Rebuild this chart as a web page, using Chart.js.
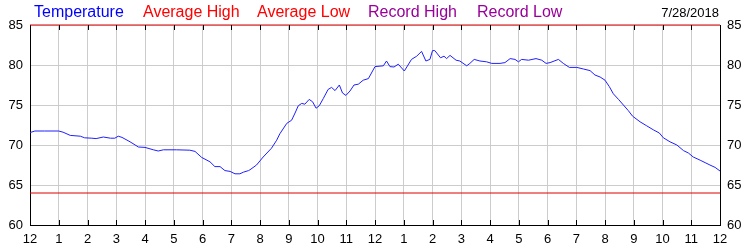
<!DOCTYPE html>
<html>
<head>
<meta charset="utf-8">
<title>Temperature 7/28/2018</title>
<script src="https://cdn.jsdelivr.net/npm/chart.js@4.4.1/dist/chart.umd.min.js"></script>
<style>
  html, body { margin: 0; padding: 0; background: #fff; }
  #wrap { position: relative; width: 750px; height: 250px; }
  #chart { position: absolute; left: 0; top: 0; }
  .lg { position: absolute; top: 3px; font: 16px "Liberation Sans", Arial, sans-serif; line-height: 18px; white-space: nowrap; }
  .date { position: absolute; top: 5px; right: 31px; font: 13px "Liberation Sans", Arial, sans-serif; line-height: 16px; color: #000; }
</style>
</head>
<body>
<div id="wrap">
  <canvas id="chart" width="750" height="250"></canvas>
  <span class="lg" style="left:34px;color:#0000ff">Temperature</span>
  <span class="lg" style="left:143px;color:#ff0000">Average High</span>
  <span class="lg" style="left:257px;color:#ff0000">Average Low</span>
  <span class="lg" style="left:368px;color:#990099">Record High</span>
  <span class="lg" style="left:477px;color:#990099">Record Low</span>
  <span class="date">7/28/2018</span>
</div>
<script>
// hours since midnight, and temperature read at each
const hours = [
  0, 0.17, 0.5, 1, 1.15, 1.4, 1.75, 1.9, 2.15, 2.3, 2.55, 2.8, 2.95, 3.07, 3.2, 3.48, 3.77, 4,
  4.29, 4.46, 4.64, 5.1, 5.56, 5.74, 5.97, 6.26, 6.43, 6.61, 6.78, 6.96, 7.13, 7.3, 7.42, 7.6,
  7.65, 7.88, 8.11, 8.4, 8.58, 8.69, 8.93, 9.1, 9.22, 9.33, 9.45, 9.56, 9.71, 9.83, 9.95, 10.06,
  10.2, 10.37, 10.49, 10.61, 10.76, 10.87, 10.99, 11.13, 11.27, 11.42, 11.59, 11.77, 12, 12.29,
  12.4, 12.52, 12.66, 12.81, 13.02, 13.27, 13.45, 13.62, 13.77, 13.91, 14, 14.08, 14.28, 14.4,
  14.49, 14.61, 14.82, 14.95, 15.19, 15.3, 15.45, 15.65, 15.88, 16.06, 16.35, 16.52, 16.7, 16.87,
  16.99, 17.1, 17.34, 17.6, 17.8, 17.95, 18.09, 18.38, 18.55, 18.76, 19.02, 19.25, 19.48, 19.65,
  19.83, 20, 20.15, 20.29, 20.47, 20.64, 20.81, 20.96, 21.22, 21.45, 21.68, 21.89, 22.03, 22.26,
  22.5, 22.73, 22.9, 23.07, 23.31, 23.48, 23.65, 23.83, 24
];
const temps = [
  71.55, 71.75, 71.75, 71.75, 71.6, 71.2, 71.1, 70.9, 70.85, 70.8, 71.0, 70.85, 70.85, 71.1, 70.95, 70.4, 69.75, 69.7,
  69.4, 69.25, 69.4, 69.4, 69.35, 69.2, 68.45, 67.9, 67.3, 67.3, 66.8, 66.7, 66.4, 66.4, 66.6, 66.8,
  66.9, 67.5, 68.5, 69.6, 70.6, 71.4, 72.7, 73.1, 74.0, 74.9, 75.2, 75.1, 75.7, 75.4, 74.6, 74.9,
  75.8, 76.95, 77.2, 76.8, 77.5, 76.5, 76.2, 76.75, 77.5, 77.6, 78.1, 78.3, 79.8, 79.9,
  80.5, 79.8, 79.75, 80.1, 79.25, 80.7, 81.1, 81.7, 80.5, 80.7, 81.8, 81.8, 80.9, 81.1,
  80.8, 81.2, 80.6, 80.5, 79.9, 80.2, 80.7, 80.5, 80.4, 80.2, 80.2, 80.3, 80.8, 80.7,
  80.4, 80.7, 80.6, 80.8, 80.6, 80.2, 80.3, 80.7, 80.2, 79.7, 79.7, 79.5, 79.3, 78.75,
  78.5, 78.1, 77.3, 76.4, 75.7, 75.0, 74.3, 73.6, 72.9, 72.4, 71.9, 71.5, 70.9, 70.4,
  70.0, 69.3, 69.0, 68.5, 68.1, 67.8, 67.5, 67.2, 66.75
];
const avgHigh = 85;
const avgLow = 64;
const dayRange = [0, 24];
const yTicks = [60, 65, 70, 75, 80, 85];

const labelFont = { family: '"Liberation Sans", Arial, sans-serif', size: 13 };

// short black ticks at the top and bottom edge of the plot
const edgeTicks = {
  id: 'edgeTicks',
  afterDatasetsDraw(chart) {
    const { ctx, chartArea, scales } = chart;
    ctx.save();
    ctx.strokeStyle = '#000';
    ctx.lineWidth = 1;
    ctx.beginPath();
    for (let h = 1; h < 24; h++) {
      const x = Math.round(scales.x.getPixelForValue(h)) + 0.5;
      ctx.moveTo(x, chartArea.top);
      ctx.lineTo(x, chartArea.top + 5);
      ctx.moveTo(x, chartArea.bottom);
      ctx.lineTo(x, chartArea.bottom - 5);
    }
    ctx.stroke();
    ctx.restore();
  }
};

const yAxis = (pos) => ({
  type: 'linear',
  position: pos,
  min: yTicks[0],
  max: yTicks[yTicks.length - 1],
  afterFit(scale) { scale.width = 30; },
  afterBuildTicks(scale) { scale.ticks = yTicks.map(v => ({ value: v })); },
  grid: { display: pos === 'left', color: '#cccccc', drawTicks: false, tickLength: 0 },
  border: { display: true, color: '#000' },
  ticks: { color: '#000', font: labelFont, padding: 7 }
});

new Chart(document.getElementById('chart'), {
  type: 'line',
  data: {
    datasets: [
      {
        label: 'Temperature',
        data: hours.map((h, i) => ({ x: h, y: temps[i] })),
        borderColor: '#1f1fff',
        borderWidth: 1,
        pointRadius: 0,
        tension: 0
      },
      {
        label: 'Average High',
        data: dayRange.map(h => ({ x: h, y: avgHigh })),
        borderColor: '#e00000',
        borderWidth: 1,
        pointRadius: 0,
        clip: 4
      },
      {
        label: 'Average Low',
        data: dayRange.map(h => ({ x: h, y: avgLow })),
        borderColor: '#e00000',
        borderWidth: 1,
        pointRadius: 0
      }
    ]
  },
  options: {
    responsive: false,
    animation: false,
    layout: { padding: { top: 25, left: 0, right: 0, bottom: 0 } },
    plugins: { legend: { display: false }, tooltip: { enabled: false } },
    scales: {
      x: {
        type: 'linear',
        min: dayRange[0],
        max: dayRange[1],
        afterFit(scale) { scale.height = 25; },
        grid: { color: '#cccccc', drawTicks: false, tickLength: 0 },
        border: { display: true, color: '#000' },
        ticks: {
          stepSize: 1,
          autoSkip: false,
          maxRotation: 0,
          color: '#000',
          font: labelFont,
          padding: 7,
          callback: v => (v % 12 === 0 ? '12' : String(v % 12))
        }
      },
      y: yAxis('left'),
      y2: yAxis('right')
    }
  },
  plugins: [edgeTicks]
});
</script>
</body>
</html>
